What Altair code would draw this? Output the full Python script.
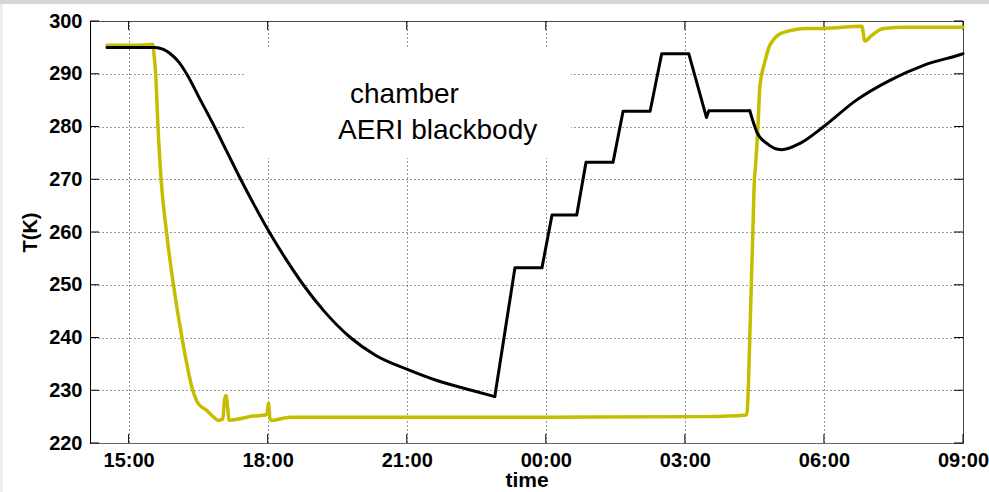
import altair as alt
import pandas as pd

# Chamber temperature (black trace), clock time HH:MM and kelvin
chamber_time = ["14:32", "15:34", "15:45", "15:54", "16:05", "16:15", "16:33", "16:51",
                "17:08", "17:25", "17:43", "18:02", "18:23", "18:46", "19:13", "19:47",
                "20:20", "21:00", "21:40", "22:26", "22:54", "23:20", "23:55", "00:08",
                "00:40", "00:52", "01:27", "01:40", "02:15", "02:30", "03:05", "03:28",
                "03:31", "04:24", "04:33", "04:46", "05:05", "05:29", "05:59", "06:42",
                "07:26", "08:09", "08:58", "09:00"]
chamber_temp = [295.0, 295.0, 294.6, 293.8, 292.2, 290.0, 285.0, 280.0,
                275.0, 270.0, 265.0, 260.0, 255.0, 250.0, 245.0, 240.0,
                236.6, 234.0, 231.8, 229.9, 228.8, 253.2, 253.2, 263.2,
                263.2, 273.2, 273.2, 282.9, 282.9, 293.8, 293.8, 281.7,
                283.0, 283.0, 279.0, 276.8, 275.6, 276.8, 279.9, 285.0,
                288.8, 291.6, 293.7, 293.8]
# stepped set-point sequence runs from the cold minimum to the start of warm-up
step_start, step_end = "22:54", "04:24"

# AERI blackbody temperature (yellow trace)
aeri_time = ["14:32", "15:00", "15:25", "15:31", "15:33", "15:35", "15:38", "15:42",
             "15:49", "15:58", "16:09", "16:23", "16:30", "16:41", "16:50", "16:56",
             "17:02", "17:04", "17:06", "17:08", "17:10", "17:24", "17:41", "17:57",
             "17:59", "18:01", "18:03", "18:05", "18:29", "21:00", "00:00", "03:30",
             "04:20", "04:22", "04:24", "04:26", "04:28", "04:30", "04:31", "04:35",
             "04:37", "04:44", "04:49", "04:54", "05:05", "05:38", "05:59", "06:49",
             "06:53", "07:02", "07:17", "07:47", "09:00"]
aeri_temp = [295.4, 295.4, 295.5, 295.6, 293.5, 290.0, 280.0, 270.0,
             260.0, 250.0, 240.0, 230.0, 227.5, 226.2, 224.9, 224.3,
             224.6, 228.0, 229.0, 227.0, 224.3, 224.6, 225.1, 225.3,
             225.5, 227.6, 224.6, 224.3, 224.9, 224.9, 224.9, 225.0,
             225.3, 230.0, 240.0, 250.0, 260.0, 270.0, 271.7, 281.2,
             287.5, 292.5, 295.1, 296.3, 297.7, 298.6, 298.6, 299.0,
             296.2, 297.3, 298.6, 298.8, 298.8]

time_ticks = ["15:00", "18:00", "21:00", "00:00", "03:00", "06:00", "09:00"]
temp_ticks = [220, 230, 240, 250, 260, 270, 280, 290, 300]
time_start, time_end = "14:10", "09:00"
series_names = ["chamber", "AERI blackbody"]

W, H = 873, 422
FONT = "Liberation Sans"
YELLOW = "#c4bd00"


def day_of(hhmm):
    # the run starts in the afternoon and ends the next morning
    return 1 if int(hhmm[:2]) >= 12 else 2


def stamp(hhmm):
    return f"2000-01-0{day_of(hhmm)}T{hhmm}:00"


def dt(hhmm):
    h, m = (int(v) for v in hhmm.split(":"))
    return alt.DateTime(year=2000, month=1, date=day_of(hhmm), hours=h, minutes=m)


chamber_df = pd.DataFrame({"t": [stamp(s) for s in chamber_time], "T": chamber_temp})
i0 = chamber_time.index(step_start)
i1 = chamber_time.index(step_end)
cool_df = chamber_df.iloc[: i0 + 1]
steps_df = chamber_df.iloc[i0: i1 + 1]
warm_df = chamber_df.iloc[i1:]

aeri_df = pd.DataFrame({"t": [stamp(s) for s in aeri_time], "T": aeri_temp})
xtick_df = pd.DataFrame({"t": [stamp(s) for s in time_ticks]})
ytick_df = pd.DataFrame({"T": temp_ticks})
one_row = alt.Data(values=[{}])

x_scale = alt.Scale(domain=[dt(time_start), dt(time_end)])
y_scale = alt.Scale(domain=[220, 300], nice=False)

x_axis = alt.Axis(values=[dt(s) for s in time_ticks], format="%H:%M", title="time",
                  grid=True, gridDash=[1, 3], gridColor="#333", gridWidth=1,
                  ticks=False, labelPadding=7, labelFontSize=20, labelFontWeight="bold",
                  labelColor="black", labelFont=FONT, labelFlush=False,
                  titleFont=FONT, titleFontSize=21, titleFontWeight="bold",
                  titleColor="black", titlePadding=-1, domainColor="#666")
y_axis = alt.Axis(values=temp_ticks, title="T(K)", grid=True, gridDash=[1, 3],
                  gridColor="#333", gridWidth=1, ticks=False, labelPadding=8,
                  labelFontSize=20, labelFontWeight="bold", labelColor="black",
                  labelFont=FONT, titleFont=FONT, titleFontSize=20,
                  titleFontWeight="bold", titleColor="black", titlePadding=8,
                  domainColor="black")

# axes with gridlines
axes = alt.Chart(aeri_df).mark_line(opacity=0).encode(
    x=alt.X("t:T", scale=x_scale, axis=x_axis),
    y=alt.Y("T:Q", scale=y_scale, axis=y_axis),
)

# white legend box hiding the grid behind the labels
legend_box = alt.Chart(one_row).mark_rect(fill="white").encode(
    x=alt.value(155), x2=alt.value(481), y=alt.value(28), y2=alt.value(137)
)

# inward tick marks on all four sides
xt = alt.Chart(xtick_df).mark_rule(color="black", strokeWidth=1)
x_ticks_bottom = xt.encode(x=alt.X("t:T", scale=x_scale), y=alt.value(H), y2=alt.value(H - 9))
x_ticks_top = xt.encode(x=alt.X("t:T", scale=x_scale), y=alt.value(0), y2=alt.value(9))
yt = alt.Chart(ytick_df).mark_rule(color="black", strokeWidth=1)
y_ticks_left = yt.encode(y=alt.Y("T:Q", scale=y_scale), x=alt.value(0), x2=alt.value(9))
y_ticks_right = yt.encode(y=alt.Y("T:Q", scale=y_scale), x=alt.value(W - 9), x2=alt.value(W))


def trace(df, color, width, interp):
    return alt.Chart(df).mark_line(
        color=color, strokeWidth=width, interpolate=interp,
        strokeCap="round", strokeJoin="round"
    ).encode(x=alt.X("t:T", scale=x_scale), y=alt.Y("T:Q", scale=y_scale))


aeri_line = trace(aeri_df, YELLOW, 3.5, "monotone")
chamber_cool = trace(cool_df, "black", 3, "monotone")
chamber_steps = trace(steps_df, "black", 3, "linear")
chamber_warm = trace(warm_df, "black", 3, "monotone")

label_chamber = alt.Chart(one_row).mark_text(
    font=FONT, fontSize=28, align="left", baseline="alphabetic", color="black"
).encode(x=alt.value(260), y=alt.value(82), text=alt.value(series_names[0]))
label_aeri = alt.Chart(one_row).mark_text(
    font=FONT, fontSize=28, align="left", baseline="alphabetic", color="black"
).encode(x=alt.value(248), y=alt.value(118), text=alt.value(series_names[1]))

# thin page border strips
top_band = alt.Chart(one_row).mark_rect(fill="#d6d6d6").encode(
    x=alt.value(-90), x2=alt.value(W + 26), y=alt.value(-21), y2=alt.value(-17)
)
left_band = alt.Chart(one_row).mark_rect(fill="#e8eef4").encode(
    x=alt.value(-90), x2=alt.value(-87), y=alt.value(-17), y2=alt.value(H + 49)
)

chart = alt.layer(
    axes, legend_box, x_ticks_bottom, x_ticks_top, y_ticks_left, y_ticks_right,
    aeri_line, chamber_cool, chamber_steps, chamber_warm,
    label_chamber, label_aeri, top_band, left_band
).properties(
    width=W, height=H,
    autosize=alt.AutoSizeParams(type="none"),
    padding={"left": 90, "top": 21, "right": 26, "bottom": 49},
    background="white",
).configure_view(stroke="#555", strokeWidth=1)

chart.save("out.html", embed_options={"renderer": "svg", "actions": False})
